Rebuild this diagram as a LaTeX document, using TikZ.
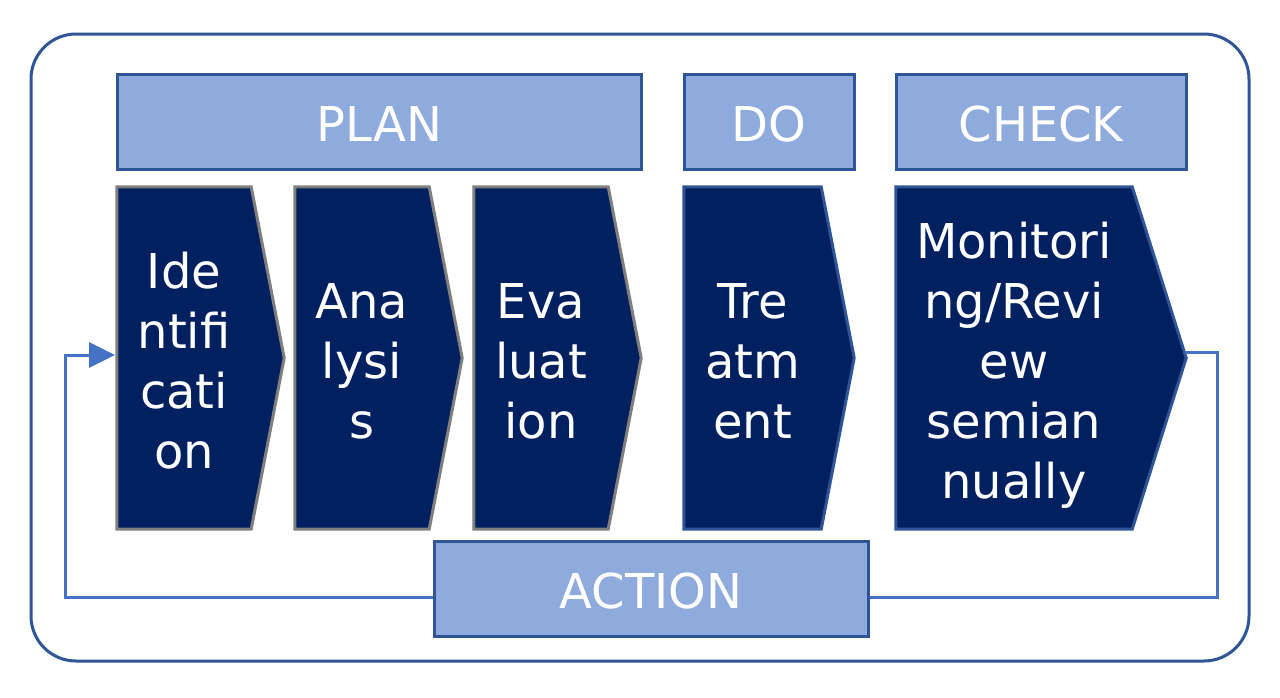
\documentclass[tikz,border=0pt]{standalone}
\usepackage{fontspec}
\setmainfont{DejaVu Sans}
\usetikzlibrary{backgrounds,calc,arrows.meta}
\definecolor{navy}{HTML}{002060}
\definecolor{boxfill}{HTML}{8FAADC}
\definecolor{boxline}{HTML}{2F5597}
\definecolor{conn}{HTML}{4472C4}
\definecolor{chevgray}{HTML}{7F7F7F}
\newcommand{\tA}{\rule{0pt}{52pt}}
\newcommand{\tD}{\rule[-12pt]{0pt}{12pt}}
\tikzset{
  txt/.style={text=white,font=\fontsize{48}{60}\selectfont,align=center,inner sep=0pt},
  phasebox/.style={txt,draw=boxline,fill=boxfill,line width=3pt},
  chevbody/.style={txt,minimum height=342pt},
  chevshape/.style={fill=navy,line width=3pt,line join=miter},
  link/.style={draw=conn,line width=3pt}
}
\begin{document}
\begin{tikzpicture}[x=1pt,y=-1pt]
\useasboundingbox (0,0) rectangle (1280,697);
% outer frame
\draw[boxline,line width=3pt,rounded corners=45pt] (31,34) rectangle (1249,661);
% phase boxes
\node[phasebox,minimum width=523.5pt,minimum height=94.5pt] (plan) at (379.25,121.75) {\tA PLAN\tD};
\node[phasebox,minimum width=170pt,minimum height=94.5pt] (do) at (769,121.75) {\tA DO\tD};
\node[phasebox,minimum width=290pt,minimum height=94.5pt] (check) at (1041,121.75) {\tA CHECK\tD};
\node[phasebox,minimum width=434pt,minimum height=95pt] (action) at (651,588.5) {\tA ACTION\tD};
% chevron bodies with text
\node[chevbody,minimum width=134pt] (ident) at (184,358) {\tA Ide\\ntifi\\cati\\on\tD};
\node[chevbody,minimum width=134pt] (anal) at (362,358) {\tA Ana\\lysi\\s\tD};
\node[chevbody,minimum width=134pt] (eval) at (541,358) {\tA Eva\\luat\\ion\tD};
\node[chevbody,minimum width=137pt] (treat) at (752.5,358) {\tA Tre\\atm\\ent\tD};
\node[chevbody,minimum width=236pt] (monit) at (1014,358) {\tA Monitori\\ng/Revi\\ew\\semian\\nually\tD};
\begin{scope}[on background layer]
  \foreach \n/\d/\c in {ident/33/chevgray,anal/33/chevgray,eval/33/chevgray,treat/33/boxline,monit/54/boxline}{
    \draw[chevshape,draw=\c] (\n.north west) -- (\n.north east) -- ($(\n.east)+(\d,0)$) -- (\n.south east) -- (\n.south west) -- cycle;
  }
\end{scope}
% feedback connectors
\coordinate (mout) at (1185,352);
\coordinate (ileft) at (115,355);
\coordinate (aright) at ($(action.east)+(0,9)$);
\coordinate (aleft) at ($(action.west)+(0,9)$);
\draw[link] (mout) -- (1217,352) |- (aright);
\draw[link,-{Triangle[length=26pt,width=25pt]}] (aleft) -| (65,355) -- (ileft);
\end{tikzpicture}
\end{document}
